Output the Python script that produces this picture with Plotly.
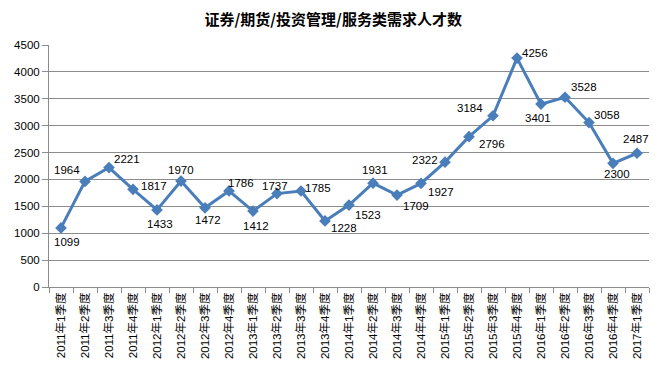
import plotly.graph_objects as go

categories = [
    "2011年1季度", "2011年2季度", "2011年3季度", "2011年4季度",
    "2012年1季度", "2012年2季度", "2012年3季度", "2012年4季度",
    "2013年1季度", "2013年2季度", "2013年3季度", "2013年4季度",
    "2014年1季度", "2014年2季度", "2014年3季度", "2014年4季度",
    "2015年1季度", "2015年2季度", "2015年3季度", "2015年4季度",
    "2016年1季度", "2016年2季度", "2016年3季度", "2016年4季度",
    "2017年1季度",
]
values = [1099, 1964, 2221, 1817, 1433, 1970, 1472, 1786, 1412, 1737, 1785, 1228,
          1523, 1931, 1709, 1927, 2322, 2796, 3184, 4256, 3401, 3528, 3058, 2300, 2487]
y_ticks = [0, 500, 1000, 1500, 2000, 2500, 3000, 3500, 4000, 4500]

# label offsets in pixels (style only)
label_dx = [6, -18, 18, 21, 3, 0, 3, 12, 3, -2, 17, 19, 19, 2, 19, 20, -20, 23, -23, 18, -3, 19, 18, 4, -1]
label_dy = [-14, 11, 9, 3, -14, 11, -12, 8, -15, 8, 3, -7, -10, 13, -11, -9, 2, -7, 8, 5, -14, 10, 8, -11, 14]

BLUE = "#4A7EBB"
GRID = "#8C8C8C"
FONT = "Liberation Sans, Noto Sans CJK SC, sans-serif"

fig = go.Figure()
fig.add_trace(go.Scatter(
    x=categories, y=values, mode="lines+markers",
    line=dict(color=BLUE, width=3),
    marker=dict(symbol="diamond", size=9, color=BLUE),
    hoverinfo="x+y", showlegend=False,
))

for c, v, dx, dy in zip(categories, values, label_dx, label_dy):
    fig.add_annotation(x=c, y=v, text=str(v), showarrow=False,
                       xshift=dx, yshift=dy,
                       font=dict(family=FONT, size=11.5, color="#000000"))

fig.update_layout(
    width=657, height=370,
    margin=dict(l=41, r=16, t=37, b=91),
    paper_bgcolor="white", plot_bgcolor="white",
    title=dict(text="证券/期货/投资管理/服务类需求人才数",
               x=0.495, xanchor="center", y=0.968, yanchor="middle",
               font=dict(family="Noto Sans CJK SC, sans-serif", size=15, color="#000000", weight="bold")),
    font=dict(family=FONT, size=11, color="#000000"),
    xaxis=dict(
        type="category", tickangle=-90, tickson="boundaries",
        ticks="outside", ticklen=5, tickcolor=GRID,
        showline=True, linecolor=GRID, linewidth=1,
        showgrid=False, zeroline=False, automargin=False,
        tickfont=dict(family="Liberation Sans, Noto Sans CJK SC, sans-serif", size=11.5, color="#000000"),
        range=[-0.5, len(categories) - 0.5],
    ),
    yaxis=dict(
        range=[0, 4500], tickvals=y_ticks, ticktext=[str(t) for t in y_ticks],
        ticks="outside", ticklen=6, tickcolor=GRID,
        showline=True, linecolor=GRID, linewidth=1,
        showgrid=True, gridcolor=GRID, gridwidth=1, zeroline=False, automargin=False,
        tickfont=dict(family=FONT, size=11.5, color="#000000"),
    ),
)

fig.write_html("out.html")
